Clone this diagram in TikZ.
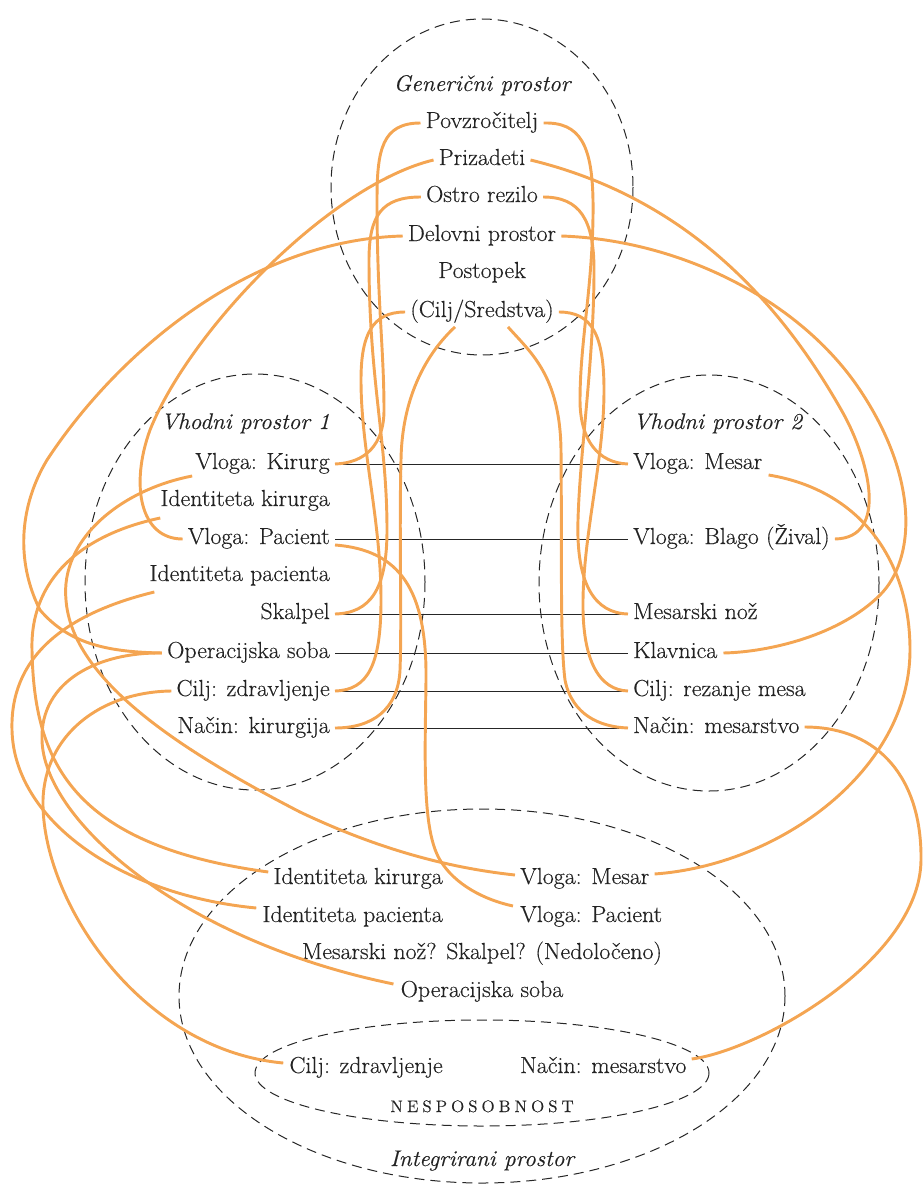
\documentclass[tikz,border=0pt]{standalone}
\usepackage{fontspec}
\setmainfont{Latin Modern Roman}[FakeStretch=1.03, FakeBold=0.35]
\usetikzlibrary{calc}
\definecolor{orng}{RGB}{244,165,82}
\definecolor{txt}{RGB}{35,35,35}
\begin{document}
\begin{tikzpicture}[x=0.75pt,y=-0.75pt,
  lbl/.style={font=\fontsize{17.4}{20}\selectfont, text=txt, inner sep=0pt, text height=11pt, text depth=3.5pt},
  ttl/.style={lbl, font=\fontsize{17}{20}\selectfont\itshape},
  spc/.style={draw=black!85, line width=0.75pt, dash pattern=on 7.5pt off 4.5pt},
  lnk/.style={draw=orng, line width=2.2pt},
  corr/.style={draw=black!85, line width=0.7pt}]
\useasboundingbox (0,0) rectangle (922,1184);

% spaces
\draw[spc] (482,187) ellipse [x radius=151, y radius=168];
\draw[spc] (255,582) ellipse [x radius=170, y radius=208];
\draw[spc] (709,583) ellipse [x radius=170, y radius=208];
\draw[spc] (482,996) ellipse [x radius=303, y radius=187];
\draw[spc] (482,1073) ellipse [x radius=227, y radius=53];

% generic space
\node[ttl, anchor=base] (gtit) at (482,91) {Generični prostor};
\node[lbl, anchor=base] (pov) at (482,128) {Povzročitelj};
\node[lbl, anchor=base] (pri) at (482,165) {Prizadeti};
\node[lbl, anchor=base] (ost) at (482,202) {Ostro rezilo};
\node[lbl, anchor=base] (del) at (482,241) {Delovni prostor};
\node[lbl, anchor=base] (pos) at (482,278) {Postopek};
\node[lbl, anchor=base] (csr) at (482,317) {(Cilj/Sredstva)};

% input space 1
\node[ttl, anchor=base east] (vp1) at (330,429) {Vhodni prostor 1};
\node[lbl, anchor=base east] (kir) at (330,469) {Vloga: Kirurg};
\node[lbl, anchor=base east] (idk) at (330,506) {Identiteta kirurga};
\node[lbl, anchor=base east] (pac) at (330,544) {Vloga: Pacient};
\node[lbl, anchor=base east] (idp) at (330,581) {Identiteta pacienta};
\node[lbl, anchor=base east] (ska) at (330,619) {Skalpel};
\node[lbl, anchor=base east] (ops) at (330,658) {Operacijska soba};
\node[lbl, anchor=base east] (cz) at (330,696) {Cilj: zdravljenje};
\node[lbl, anchor=base east] (nk) at (330,733) {Način: kirurgija};

% input space 2
\node[ttl, anchor=base west] (vp2) at (633,429) {Vhodni prostor 2};
\node[lbl, anchor=base west] (mes) at (633,469) {Vloga: Mesar};
\node[lbl, anchor=base west] (bla) at (633,544) {Vloga: Blago (Žival)};
\node[lbl, anchor=base west] (noz) at (633,619) {Mesarski nož};
\node[lbl, anchor=base west] (kla) at (633,658) {Klavnica};
\node[lbl, anchor=base west] (crm) at (633,696) {Cilj: rezanje mesa};
\node[lbl, anchor=base west] (nm) at (633,733) {Način: mesarstvo};

% integrated space
\node[lbl, anchor=base east] (idk2) at (443,884) {Identiteta kirurga};
\node[lbl, anchor=base east] (idp2) at (443,922) {Identiteta pacienta};
\node[lbl, anchor=base west] (mes2) at (520,884) {Vloga: Mesar};
\node[lbl, anchor=base west] (pac2) at (520,922) {Vloga: Pacient};
\node[lbl, anchor=base] (ned) at (482,959) {Mesarski nož? Skalpel? (Nedoločeno)};
\node[lbl, anchor=base] (ops2) at (482,997) {Operacijska soba};
\node[lbl, anchor=base east] (cz2) at (443,1073) {Cilj: zdravljenje};
\node[lbl, anchor=base west] (nm2) at (520,1073) {Način: mesarstvo};
\node[lbl, font=\fontsize{12.5}{14}\selectfont, anchor=base] (nesp) at (482,1112)
  {N\kern3pt E\kern3pt S\kern3pt P\kern3pt O\kern3pt S\kern3pt O\kern3pt B\kern3pt N\kern3pt O\kern3pt S\kern3pt T};
\node[ttl, anchor=base] (itit) at (482,1166) {Integrirani prostor};

% cross-space correspondences
\draw[corr] ($(kir.east)+(5,0)$) -- ($(mes.west)+(-5,0)$);
\draw[corr] ($(pac.east)+(5,0)$) -- ($(bla.west)+(-5,0)$);
\draw[corr] ($(ska.east)+(5,0)$) -- ($(noz.west)+(-5,0)$);
\draw[corr] ($(ops.east)+(5,0)$) -- ($(kla.west)+(-5,0)$);
\draw[corr] ($(cz.east)+(5,0)$) -- ($(crm.west)+(-5,0)$);
\draw[corr] ($(nk.east)+(5,0)$) -- ($(nm.west)+(-5,0)$);

% generic -> input 1
\draw[lnk] ($(pov.west)+(-5,0)$) .. controls (382,123) and (377,150) .. (377,200)
  .. controls (377,300) and (384,350) .. (384,410)
  .. controls (384,445) and (365,463) .. ($(kir.east)+(5,0)$);
\draw[lnk] ($(ost.west)+(-5,0)$) .. controls (382,197) and (369,215) .. (369,260)
  .. controls (369,380) and (387,440) .. (387,530)
  .. controls (387,590) and (370,613) .. ($(ska.east)+(5,0)$);
\draw[lnk] ($(csr.west)+(-5,0)$) .. controls (372,312) and (361,335) .. (361,380)
  .. controls (361,450) and (381,520) .. (381,600)
  .. controls (381,665) and (368,690) .. ($(cz.east)+(5,0)$);
\draw[lnk] ($(csr.south)+(-27,5)$) .. controls (428,352) and (402,395) .. (401,460)
  .. controls (399,540) and (402,620) .. (400,670)
  .. controls (398,710) and (372,728) .. ($(nk.east)+(5,0)$);

% generic -> input 2
\draw[lnk] ($(pov.east)+(5,0)$) .. controls (580,122) and (592,145) .. (593,200)
  .. controls (594,280) and (580,340) .. (580,400)
  .. controls (580,440) and (598,463) .. ($(mes.west)+(-5,0)$);
\draw[lnk] ($(ost.east)+(5,0)$) .. controls (580,197) and (594,220) .. (594,270)
  .. controls (594,360) and (580,450) .. (578,520)
  .. controls (576,585) and (595,613) .. ($(noz.west)+(-5,0)$);
\draw[lnk] ($(csr.east)+(5,0)$) .. controls (592,312) and (604,335) .. (604,390)
  .. controls (604,460) and (584,530) .. (583,600)
  .. controls (582,662) and (600,690) .. ($(crm.west)+(-5,0)$);
\draw[lnk] ($(csr.south)+(26,5)$) .. controls (530,352) and (560,375) .. (561,450)
  .. controls (562,560) and (560,640) .. (565,680)
  .. controls (572,715) and (600,727) .. ($(nm.west)+(-5,0)$);

% Prizadeti, Delovni prostor
\draw[lnk] ($(pri.west)+(-5,0)$) .. controls (330,185) and (190,330) .. (150,430)
  .. controls (130,485) and (140,539) .. ($(pac.west)+(-5,0)$);
\draw[lnk] ($(pri.east)+(5,0)$) .. controls (662,192) and (765,274) .. (843,413)
  .. controls (868,458) and (890,538) .. ($(bla.east)+(5,0)$);
\draw[lnk] ($(del.west)+(-5,0)$) .. controls (250,240) and (118,352) .. (47,460)
  .. controls (20,505) and (15,560) .. (40,610)
  .. controls (70,645) and (110,652) .. ($(ops.west)+(-5,0)$);
\draw[lnk] ($(del.east)+(5,0)$) .. controls (680,240) and (800,300) .. (860,390)
  .. controls (920,480) and (915,560) .. (880,595)
  .. controls (840,635) and (770,652) .. ($(kla.east)+(6,0)$);

% inputs -> integrated
\draw[lnk] ($(kir.west)+(-3,12)$) .. controls (120,490) and (60,540) .. (66,600)
  .. controls (72,680) and (180,750) .. (300,812)
  .. controls (380,850) and (450,868) .. ($(mes2.west)+(-5,-4)$);
\draw[lnk] ($(idk.west)+(0,17)$) .. controls (80,535) and (30,580) .. (32,650)
  .. controls (34,760) and (70,845) .. ($(idk2.west)+(-5,-7)$);
\draw[lnk] ($(idp.west)+(5,16)$) .. controls (60,615) and (10,660) .. (12,730)
  .. controls (14,820) and (120,895) .. ($(idp2.west)+(-6,-9)$);
\draw[lnk] ($(ops.west)+(-5,0)$) .. controls (100,652) and (40,680) .. (42,740)
  .. controls (44,820) and (180,940) .. ($(ops2.west)+(-7,-8)$);
\draw[lnk] ($(cz.west)+(-5,0)$) .. controls (100,692) and (45,735) .. (43,800)
  .. controls (41,900) and (140,1050) .. ($(cz2.west)+(-6,-5)$);
\draw[lnk] ($(pac.east)+(5,6)$) .. controls (400,550) and (427,590) .. (426,680)
  .. controls (425,760) and (422,830) .. (440,860)
  .. controls (455,885) and (485,900) .. ($(pac2.west)+(-7,-11)$);
\draw[lnk] ($(mes.east)+(6,11)$) .. controls (860,490) and (910,560) .. (910,650)
  .. controls (910,770) and (780,865) .. ($(mes2.east)+(5,-5)$);
\draw[lnk] ($(nm.east)+(5,-1)$) .. controls (880,727) and (922,780) .. (921,860)
  .. controls (920,960) and (760,1050) .. ($(nm2.east)+(5,-9)$);
\end{tikzpicture}
\end{document}
